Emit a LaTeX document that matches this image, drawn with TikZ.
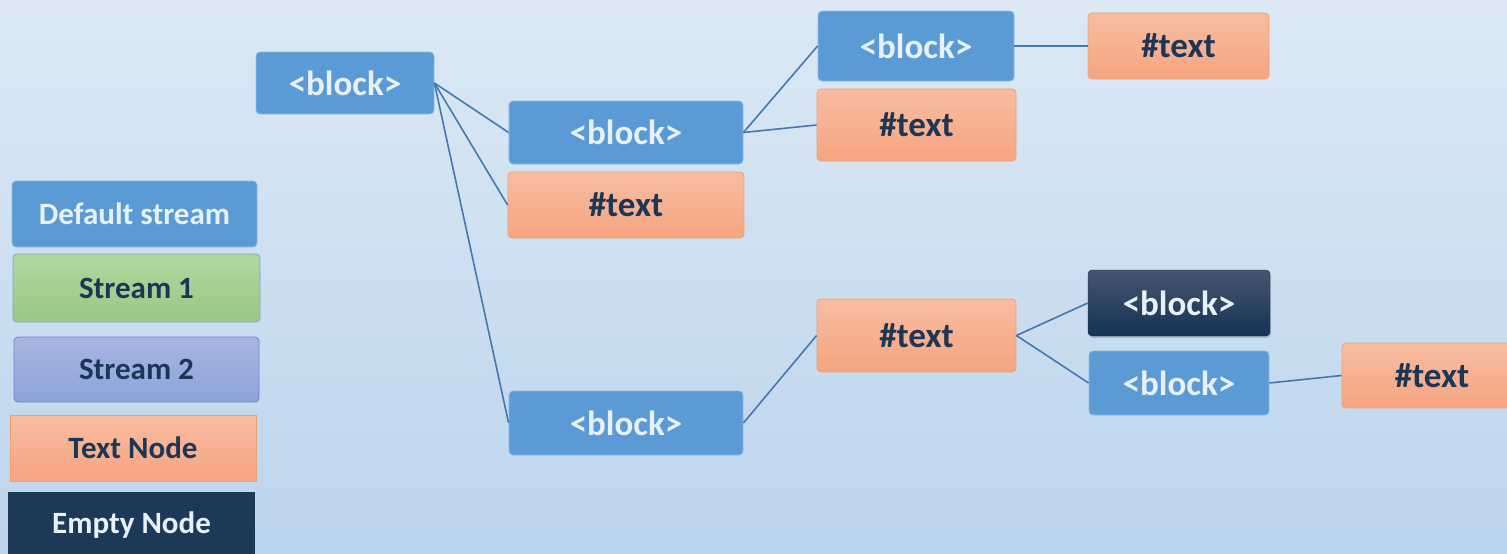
\documentclass[tikz,border=0pt]{standalone}
\usepackage{fontspec}
\setmainfont{Carlito}
\usetikzlibrary{shadows}
\definecolor{bgtop}{RGB}{220,233,245}
\definecolor{bgbot}{RGB}{188,212,236}
\definecolor{blk}{RGB}{91,155,213}
\definecolor{blkedge}{RGB}{140,185,228}
\definecolor{blktxt}{RGB}{232,240,249}
\definecolor{orgtop}{RGB}{248,189,162}
\definecolor{orgbot}{RGB}{245,164,128}
\definecolor{orgedge}{RGB}{240,160,110}
\definecolor{navytxt}{RGB}{28,54,86}
\definecolor{grntop}{RGB}{178,214,160}
\definecolor{grnbot}{RGB}{155,200,130}
\definecolor{grnedge}{RGB}{120,170,200}
\definecolor{prptop}{RGB}{168,182,224}
\definecolor{prpbot}{RGB}{140,163,218}
\definecolor{darktop}{RGB}{70,86,110}
\definecolor{darkbot}{RGB}{20,50,85}
\definecolor{emptyc}{RGB}{28,58,88}
\definecolor{link}{RGB}{70,120,175}
\begin{document}
\begin{tikzpicture}[x=1pt,y=-1pt,
  base/.style={rectangle, rounded corners=4pt, inner sep=0pt, font=\bfseries\fontsize{35}{35}\selectfont},
  legend/.style={font=\bfseries\fontsize{31}{31}\selectfont},
  blockbox/.style={base, fill=blk, draw=blkedge, line width=0.8pt, text=blktxt},
  textbox/.style={base, top color=orgtop, bottom color=orgbot, draw=orgedge, line width=0.8pt, text=navytxt},
  darkbox/.style={base, top color=darktop, bottom color=darkbot, draw=darkbot, text=blktxt, drop shadow={opacity=0.35, shadow xshift=1pt, shadow yshift=-2pt}},
  s1box/.style={base, top color=grntop, bottom color=grnbot, draw=grnedge, line width=0.8pt, text=navytxt},
  s2box/.style={base, top color=prptop, bottom color=prpbot, draw=prpbot!80!blue, line width=0.8pt, text=navytxt},
  emptybox/.style={base, rounded corners=0pt, fill=emptyc, text=blktxt},
  conn/.style={draw=link, line width=1.6pt}
]
\useasboundingbox (0,0) rectangle (1507,554);
\shade[top color=bgtop, bottom color=bgbot] (0,0) rectangle (1507,554);
\clip (0,0) rectangle (1507,554);

% legend
\node[blockbox, legend, minimum width=245pt, minimum height=66pt] (lgdef) at (134.5,214) {Default stream};
\node[s1box, legend, minimum width=247pt, minimum height=68pt] (lgs1) at (136.5,288) {Stream 1};
\node[s2box, legend, minimum width=245pt, minimum height=65pt] (lgs2) at (136.5,369.5) {Stream 2};
\node[textbox, legend, rounded corners=0pt, minimum width=246pt, minimum height=66pt] (lgtxt) at (133,448) {Text Node};
\node[emptybox, legend, minimum width=247pt, minimum height=66pt] (lgemp) at (131.5,525) {Empty Node};

% tree
\node[blockbox, minimum width=178pt, minimum height=62pt] (b0) at (345,83) {<block>};
\node[blockbox, minimum width=234pt, minimum height=63pt] (b1) at (626,132.5) {<block>};
\node[textbox, minimum width=236pt, minimum height=66pt] (t1) at (626,205) {\#text};
\node[blockbox, minimum width=234pt, minimum height=64pt] (b2) at (626,423) {<block>};
\node[blockbox, minimum width=196pt, minimum height=70pt] (b3) at (916,46) {<block>};
\node[textbox, minimum width=199pt, minimum height=72pt] (t2) at (916.5,125) {\#text};
\node[textbox, minimum width=181pt, minimum height=66pt] (t3) at (1178.5,46) {\#text};
\node[textbox, minimum width=199pt, minimum height=73pt] (t4) at (916.5,335.5) {\#text};
\node[darkbox, minimum width=182pt, minimum height=66pt] (e1) at (1179,303) {<block>};
\node[blockbox, minimum width=180pt, minimum height=64pt] (b4) at (1179,383) {<block>};
\node[textbox, minimum width=180pt, minimum height=65pt] (t5) at (1432,375.5) {\#text};

% connectors
\draw[conn] (b0.east) -- (b1.west);
\draw[conn] (b0.east) -- (t1.west);
\draw[conn] (b0.east) -- (b2.west);
\draw[conn] (b1.east) -- (b3.west);
\draw[conn] (b1.east) -- (t2.west);
\draw[conn] (b3.east) -- (t3.west);
\draw[conn] (b2.east) -- (t4.west);
\draw[conn] (t4.east) -- (e1.west);
\draw[conn] (t4.east) -- (b4.west);
\draw[conn] (b4.east) -- (t5.west);
\end{tikzpicture}
\end{document}
